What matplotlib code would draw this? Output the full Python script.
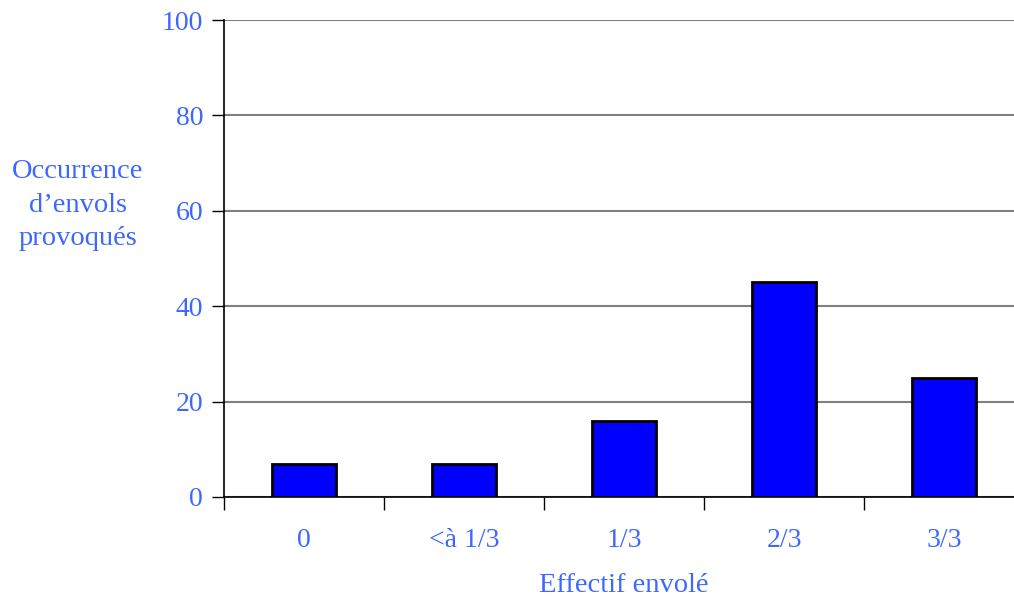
import matplotlib
matplotlib.use("Agg")
import matplotlib.pyplot as plt
import numpy as np

categories = ["0", "<à 1/3", "1/3", "2/3", "3/3"]
occurrences = [7, 7, 16, 45, 25]
y_ticks = [0, 20, 40, 60, 80, 100]

text_blue = "#3d68ff"
plt.rcParams["font.family"] = ["Liberation Serif", "DejaVu Serif"]

fig = plt.figure(figsize=(10.14, 5.99), dpi=100)
W, H = 1014, 599
ax = fig.add_axes([224 / W, 1 - 497 / H, 800 / W, 477 / H])

x = np.arange(len(categories))
ax.bar(x, occurrences, width=0.4, color="#0000ff", edgecolor="black",
       linewidth=2, zorder=3)

ax.set_xlim(-0.5, len(categories) - 0.5)
ax.set_ylim(0, 100)
ax.set_yticks(y_ticks)
ax.yaxis.grid(True, color="#808080", linewidth=1.5, zorder=0)
ax.set_axisbelow(True)

ax.set_xticks(x)
ax.set_xticklabels(categories)
ax.set_xticks(np.arange(len(categories) + 1) - 0.5, minor=True)
ax.tick_params(axis="x", which="major", length=0, pad=22,
               labelsize=20, labelcolor=text_blue)
ax.tick_params(axis="x", which="minor", length=9, width=1, direction="out",
               color="black")
ax.tick_params(axis="y", length=9, width=1, direction="out", pad=6,
               labelsize=20, labelcolor=text_blue)

for side in ("top", "right"):
    ax.spines[side].set_visible(False)
for side in ("left", "bottom"):
    ax.spines[side].set_color("black")
    ax.spines[side].set_linewidth(1.2)

fig.text(78 / W, 1 - 205 / H, "Occurrence\nd’envols\nprovoqués",
         ha="center", va="center", color=text_blue, fontsize=20.5,
         linespacing=1.45)
fig.text(624 / W, 1 - 586 / H, "Effectif envolé", ha="center", va="center",
         color=text_blue, fontsize=20.5)

fig.savefig("out.png", dpi=100)
